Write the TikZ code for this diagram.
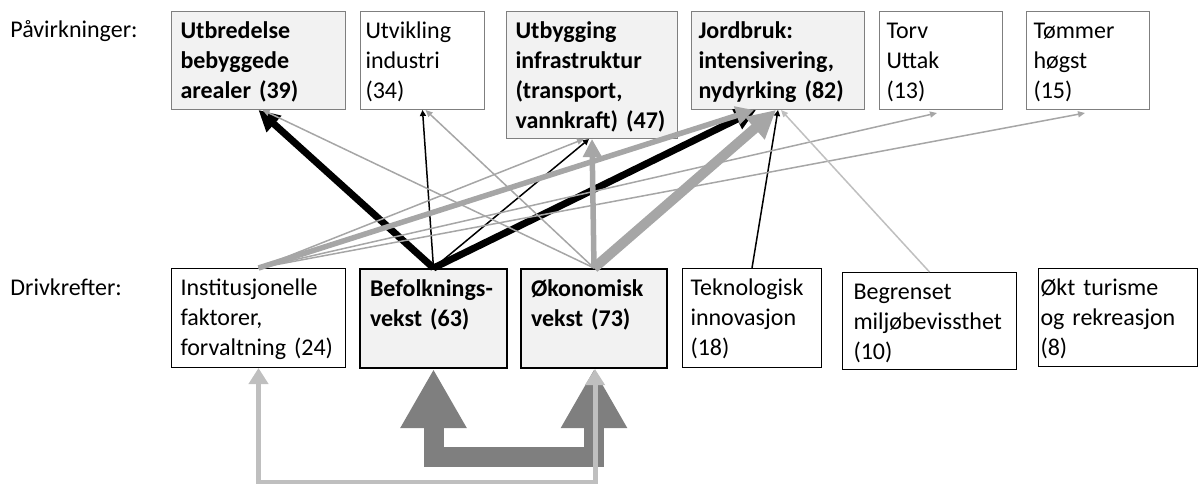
\documentclass[tikz,border=0pt]{standalone}
\usepackage{fontspec}
\setmainfont{Carlito}
\usetikzlibrary{arrows.meta}
\hyphenpenalty=10000
\exhyphenpenalty=10000

\definecolor{boxfill}{RGB}{242,242,242}
\definecolor{boxline}{RGB}{127,127,127}
\definecolor{linkgray}{RGB}{166,166,166}
\definecolor{palegray}{RGB}{191,191,191}
\definecolor{loopgray}{RGB}{127,127,127}
\newcommand\boxfont{\fontsize{24}{30}\selectfont}

\tikzset{every picture/.style={line width=0.75pt},
  factor/.style={rectangle, anchor=north west, align=left, inner ysep=0pt, font=\boxfont, text height=27pt},
  impact/.style={factor, draw=boxline, line width=1pt},
  driver/.style={factor, draw=black, line width=1pt},
  mainfactor/.style={fill=boxfill, font=\boxfont\bfseries},
  minorblack/.style={draw=black, line width=1.5pt, -{Triangle[length=6pt,width=6pt]}},
  majorblack/.style={draw=black, line width=7pt, -{Triangle[length=21pt,width=21pt]}},
  minorgray/.style={draw=linkgray, line width=1.5pt, -{Triangle[length=7pt,width=6pt]}},
  majorgray/.style={draw=linkgray, line width=5.5pt, -{Triangle[length=18pt,width=18pt]}},
  widegray/.style={draw=linkgray, line width=10pt, -{Triangle[length=28pt,width=28pt]}},
  loopdark/.style={draw=loopgray, line width=20pt, {Triangle[length=59pt,width=62pt]}-{Triangle[length=59pt,width=62pt]}},
  looplight/.style={draw=palegray, line width=5pt, {Triangle[length=16pt,width=19pt]}-{Triangle[length=16pt,width=19pt]}}
}

\begin{document}
\begin{tikzpicture}[x=1pt,y=1pt,yscale=-1,xscale=1]
\useasboundingbox (0,0) rectangle (1199,484);

% Text Node
\node[anchor=base west, inner sep=0pt, font=\boxfont] (pavlabel) at (10,38) {Påvirkninger:};
% Text Node
\node[anchor=base west, inner sep=0pt, font=\boxfont] (drivlabel) at (10,295) {Drivkrefter:};

%Shape: Rectangle [impacts]
\node[impact, mainfactor, text width=156pt, inner xsep=9pt, text depth=71pt] (utbred) at (171,11) {Utbredelse\\bebyggede\\arealer (39)};
\node[impact, text width=114pt, inner xsep=5pt, text depth=71pt] (industri) at (360,11) {Utvikling\\industri\\(34)};
\node[impact, mainfactor, text width=153pt, inner xsep=9pt, text depth=100pt] (infra) at (506,11) {Utbygging\\infrastruktur\\(transport,\\vannkraft) (47)};
\node[impact, mainfactor, text width=159pt, inner xsep=7pt, text depth=71pt] (jordbruk) at (691,11) {Jordbruk:\\intensivering,\\nydyrking (82)};
\node[impact, text width=109pt, inner xsep=7pt, text depth=71pt] (torv) at (879,11) {Torv\\Uttak\\(13)};
\node[impact, text width=109pt, inner xsep=7pt, text depth=71pt] (tommer) at (1026,11) {Tømmer\\høgst\\(15)};

%Shape: Rectangle [drivers]
\node[driver, text width=156pt, inner xsep=9pt, text depth=72pt] (instit) at (171,268) {Institusjonelle\\faktorer,\\forvaltning (24)};
\node[driver, mainfactor, line width=2pt, text width=127pt, inner xsep=10pt, text depth=72pt] (befolk) at (359,268) {Befolknings-\\vekst (63)};
\node[driver, mainfactor, line width=2pt, text width=126pt, inner xsep=10pt, text depth=72pt] (okonom) at (520,268) {Økonomisk\\vekst (73)};
\node[driver, text width=123pt, inner xsep=8pt, text depth=72pt] (tekno) at (682,268) {Teknologisk\\innovasjon\\(18)};
\node[driver, text width=152pt, inner xsep=11pt, text depth=70pt] (miljo) at (842,272) {Begrenset\\miljøbevissthet\\(10)};
\node[driver, text width=155pt, inner xsep=2pt, text depth=71pt] (turisme) at (1038,268) {Økt turisme\\og rekreasjon\\(8)};

%Straight Lines [black]
\draw[majorblack] (befolk.north) -- (utbred.south);
\draw[majorblack] (befolk.north) -- ([xshift=-22pt]jordbruk.south);
\draw[minorblack] (befolk.north) -- (industri.south);
\draw[minorblack] (befolk.north) -- ([xshift=-3pt]infra.south);
\draw[minorblack] (tekno.north) -- (jordbruk.south);

%Straight Lines [gray]
\draw[minorgray] (okonom.north) -- ([xshift=4pt]utbred.south);
\draw[minorgray] (okonom.north) -- ([xshift=3pt]industri.south);
\draw[minorgray] (instit.north) -- ([xshift=-8pt]infra.south);
\draw[minorgray] (instit.north) -- ([xshift=-4pt,yshift=3pt]torv.south);
\draw[minorgray] (instit.north) -- ([xshift=-3pt,yshift=3pt]tommer.south);
\draw[majorgray] (instit.north) -- ([xshift=-24pt]jordbruk.south);
\draw[majorgray] (okonom.north) -- (infra.south);
\draw[widegray] (okonom.north) -- ([xshift=-2pt]jordbruk.south);
\draw[minorgray, draw=palegray] (miljo.north) -- ([xshift=3pt]jordbruk.south);

%Straight Lines [feedback]
\draw[loopdark] (befolk.south) -- ++(0,88) -| (okonom.south);
\draw[looplight] ([xshift=1pt]okonom.south) -- ++(0,113) -| (instit.south);

\end{tikzpicture}
\end{document}
